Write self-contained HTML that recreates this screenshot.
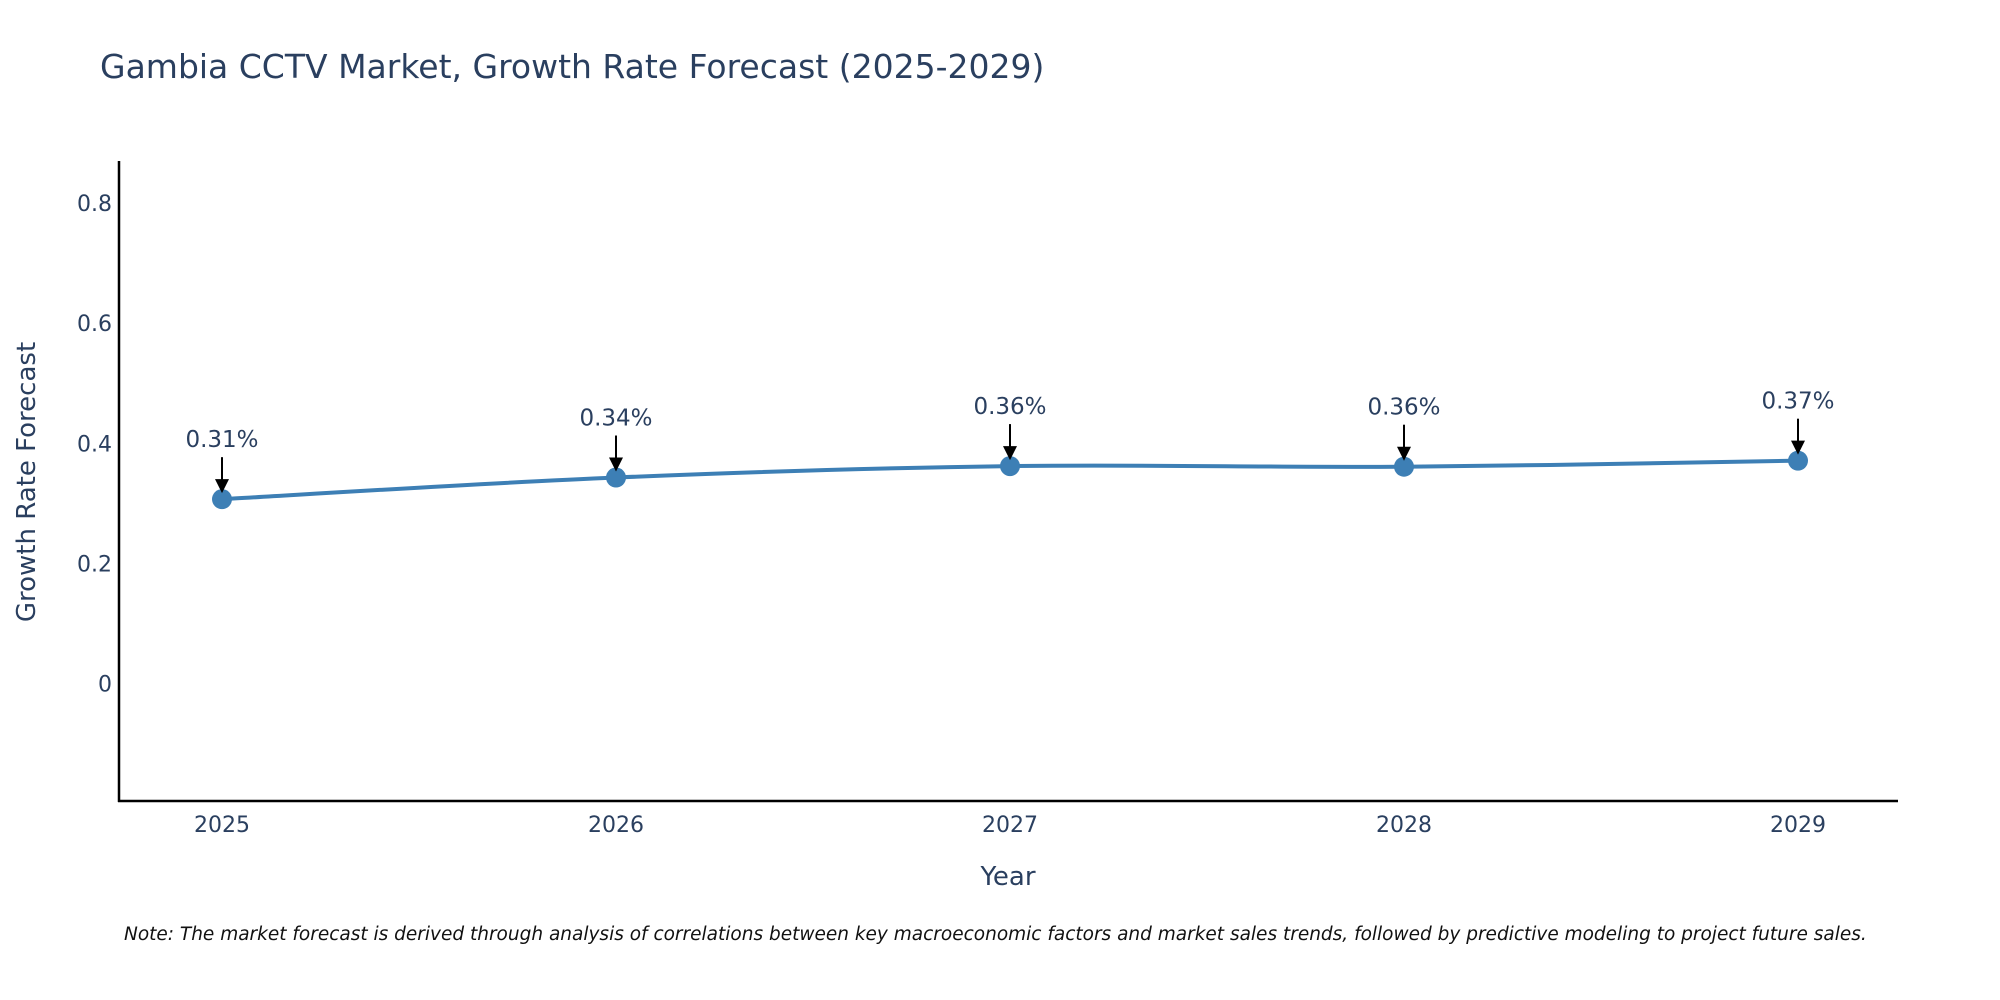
<!DOCTYPE html>
<html><head><meta charset="utf-8"><style>
html,body{margin:0;padding:0;background:#fff;overflow:hidden;}
svg{display:block;font-family:"DejaVu Sans","Liberation Sans",sans-serif;}
</style></head><body>
<svg id="chart" width="2000" height="1000" viewBox="0 0 2000 1000">
<text x="100" y="78" font-size="33" fill="#2a3f5f">Gambia CCTV Market, Growth Rate Forecast (2025-2029)</text>
<g id="yticks"></g>
<g id="xticks"></g>
<line x1="119" y1="161" x2="119" y2="802" stroke="#000" stroke-width="2.5"/>
<line x1="118" y1="801" x2="1898" y2="801" stroke="#000" stroke-width="2.5"/>
<text transform="translate(35,482) rotate(-90)" text-anchor="middle" font-size="26" fill="#2a3f5f">Growth Rate Forecast</text>
<text x="1008" y="885" text-anchor="middle" font-size="26" fill="#2a3f5f">Year</text>
<path id="line" fill="none" stroke="#3d7fb5" stroke-width="4"/>
<g id="marks"></g>
<text x="124" y="940" font-size="18.5" font-style="italic" fill="#111">Note: The market forecast is derived through analysis of correlations between key macroeconomic factors and market sales trends, followed by predictive modeling to project future sales.</text>
</svg>
<script>
const years = [2025, 2026, 2027, 2028, 2029];
const values = [0.307, 0.343, 0.362, 0.361, 0.371];
const labels = ["0.31%", "0.34%", "0.36%", "0.36%", "0.37%"];
const yTicks = [0, 0.2, 0.4, 0.6, 0.8];
const yTickLabels = ["0", "0.2", "0.4", "0.6", "0.8"];

const NS = "http://www.w3.org/2000/svg";
function xs(y){ return 222 + (y - 2025) * (1798 - 222) / 4; }
function ys(v){ return 683.7 - v * (683.7 - 202.8) / 0.8; }
function mk(tag, attrs, parent){ const e = document.createElementNS(NS, tag); for (const k in attrs) e.setAttribute(k, attrs[k]); parent.appendChild(e); return e; }

const yg = document.getElementById('yticks');
yTicks.forEach((t, i) => {
  const e = mk('text', {x: 112, y: ys(t) + 8, 'text-anchor': 'end', 'font-size': 22, fill: '#2a3f5f'}, yg);
  
  
  e.textContent = yTickLabels[i];
});
const xg = document.getElementById('xticks');
years.forEach(y => {
  const e = mk('text', {x: xs(y), y: 832, 'text-anchor': 'middle', 'font-size': 22, fill: '#2a3f5f'}, xg);
  
  
  e.textContent = y;
});

const pts = years.map((y, i) => [xs(y), ys(values[i])]);
let d = 'M' + pts[0][0] + ',' + pts[0][1];
for (let i = 0; i < pts.length - 1; i++) {
  const p0 = pts[i - 1] || pts[i], p1 = pts[i], p2 = pts[i + 1], p3 = pts[i + 2] || p2;
  const c1 = [p1[0] + (p2[0] - p0[0]) / 6, p1[1] + (p2[1] - p0[1]) / 6];
  const c2 = [p2[0] - (p3[0] - p1[0]) / 6, p2[1] - (p3[1] - p1[1]) / 6];
  d += ' C' + c1 + ' ' + c2 + ' ' + p2;
}
document.getElementById('line').setAttribute('d', d);

const mg = document.getElementById('marks');
pts.forEach((p, i) => {
  const c = mk('circle', {cx: p[0], cy: p[1], r: 10, fill: '#3d7fb5'}, mg);
  
  
  const l = mk('line', {x1: p[0], y1: p[1] - 42, x2: p[0], y2: p[1] - 16, stroke: '#000', 'stroke-width': 2}, mg);
  
  
  const a = mk('polygon', {points: (p[0]-7)+','+(p[1]-20)+' '+(p[0]+7)+','+(p[1]-20)+' '+p[0]+','+(p[1]-6), fill: '#000'}, mg);
  
  
  const t = mk('text', {x: p[0], y: p[1] - 52, 'text-anchor': 'middle', 'font-size': 23, fill: '#2a3f5f'}, mg);
  
  
  t.textContent = labels[i];
});
</script>
</body></html>
